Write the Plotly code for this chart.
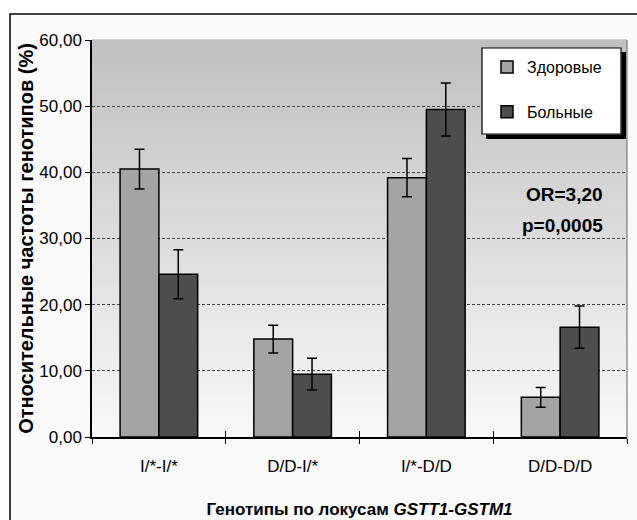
import plotly.graph_objects as go

categories = ["I/*-I/*", "D/D-I/*", "I/*-D/D", "D/D-D/D"]
healthy = [40.5, 14.8, 39.2, 6.0]
healthy_err = [3.0, 2.1, 2.9, 1.5]
patients = [24.6, 9.5, 49.5, 16.6]
patients_err = [3.7, 2.4, 4.0, 3.2]
series_names = ["Здоровые", "Больные"]
y_ticks = [0, 10, 20, 30, 40, 50, 60]
y_tick_labels = ["0,00", "10,00", "20,00", "30,00", "40,00", "50,00", "60,00"]
stat_lines = ["OR=3,20", "p=0,0005"]

FONT = "Liberation Sans, Arial, sans-serif"
W, H = 637, 520
ML, MR, MT, MB = 92, 10, 40, 83
PW, PH = W - ML - MR, H - MT - MB


def px_x(px):
    return (px - ML) / PW


def px_y(py):
    return (H - MB - py) / PH


fig = go.Figure()
fig.add_trace(go.Bar(
    name=series_names[0], x=categories, y=healthy, legendgroup="a",
    marker=dict(color="#a4a4a4", line=dict(color="black", width=1.5)),
    error_y=dict(type="data", array=healthy_err, color="black", thickness=1.5, width=5),
))
fig.add_trace(go.Bar(
    name=series_names[1], x=categories, y=patients, legendgroup="b",
    marker=dict(color="#4d4d4d", line=dict(color="black", width=1.5)),
    error_y=dict(type="data", array=patients_err, color="black", thickness=1.5, width=5),
))
# invisible helper trace so the overlay axis (inner half of the crossing ticks) is drawn
fig.add_trace(go.Scatter(x=categories, y=[None] * len(categories), xaxis="x2",
                         mode="markers", showlegend=False, hoverinfo="skip"))

shapes = []
# outer frame
shapes.append(dict(type="rect", xref="paper", yref="paper", layer="below",
                   x0=px_x(10), x1=px_x(W + 20), y0=px_y(H + 20), y1=px_y(14),
                   line=dict(color="black", width=1.5), fillcolor="#fafafa"))
# gradient background of plot area
n = 60
top, bot = 0xC0, 0xF8
for i in range(n):
    c = round(top + (bot - top) * i / (n - 1))
    shapes.append(dict(type="rect", xref="x domain", yref="y domain", layer="below",
                       x0=0, x1=1, y0=1 - (i + 1) / n, y1=1 - i / n + 0.002,
                       line=dict(width=0), fillcolor=f"rgb({c},{c},{c})"))
# right border of plot area
shapes.append(dict(type="line", xref="x domain", yref="y domain", layer="above",
                   x0=1, x1=1, y0=-0.013, y1=1, line=dict(color="#666", width=1)))
# legend shadow strips (not overlapping the box) and box
shapes.append(dict(type="rect", xref="paper", yref="paper", layer="above",
                   x0=px_x(621.5), x1=px_x(626), y0=px_y(139), y1=px_y(52),
                   line=dict(width=0), fillcolor="black"))
shapes.append(dict(type="rect", xref="paper", yref="paper", layer="above",
                   x0=px_x(486), x1=px_x(626), y0=px_y(139), y1=px_y(134.5),
                   line=dict(width=0), fillcolor="black"))
shapes.append(dict(type="rect", xref="paper", yref="paper", layer="above",
                   x0=px_x(482), x1=px_x(621), y0=px_y(134), y1=px_y(48),
                   line=dict(color="black", width=1.2), fillcolor="white"))
fig.update_layout(shapes=shapes)

for txt, yy in zip(stat_lines, [194, 225]):
    fig.add_annotation(x=px_x(605), y=px_y(yy), xref="paper", yref="paper",
                       text=txt, showarrow=False, xanchor="right", yanchor="middle",
                       font=dict(family=FONT, size=19, color="black", weight="bold"))

fig.update_layout(
    width=W, height=H,
    margin=dict(l=ML, r=MR, t=MT, b=MB, autoexpand=False),
    paper_bgcolor="white",
    plot_bgcolor="rgba(0,0,0,0)",
    barmode="group", bargap=0.42, bargroupgap=0,
    font=dict(family=FONT, size=17, color="black"),
    legend=dict(
        x=px_x(487), y=px_y(50), xanchor="left", yanchor="top",
        bgcolor="rgba(0,0,0,0)", borderwidth=0,
        font=dict(family=FONT, size=16, color="black"),
        traceorder="grouped", tracegroupgap=21,
    ),
    xaxis=dict(
        automargin=False,
        showline=True, linecolor="black", linewidth=1.5,
        ticks="outside", ticklen=5, tickcolor="black", tickson="boundaries",
        showgrid=False, ticklabelstandoff=13,
        tickfont=dict(family=FONT, size=17),
        title=dict(text="Генотипы по локусам <i>GSTT1-GSTM1</i>", standoff=28,
                   font=dict(family=FONT, size=17, weight="bold")),
    ),
    xaxis2=dict(
        overlaying="x", matches="x", side="bottom", automargin=False,
        ticks="inside", ticklen=6, tickcolor="black", tickson="boundaries",
        showticklabels=False, showline=False, showgrid=False, zeroline=False,
    ),
    yaxis=dict(
        automargin=False,
        range=[0, 60], tickvals=y_ticks, ticktext=y_tick_labels,
        showline=True, linecolor="black", linewidth=1.5,
        ticks="outside", ticklen=5, tickcolor="black",
        showgrid=True, gridcolor="#444", gridwidth=1, griddash="3px,2px",
        zeroline=False,
        tickfont=dict(family=FONT, size=17),
        title=dict(text="Относительные частоты генотипов (%)", standoff=0,
                   font=dict(family=FONT, size=20, weight="bold")),
    ),
)

fig.write_html("out.html", config=dict(displayModeBar=False),
               post_script="document.body.style.margin='0';")
